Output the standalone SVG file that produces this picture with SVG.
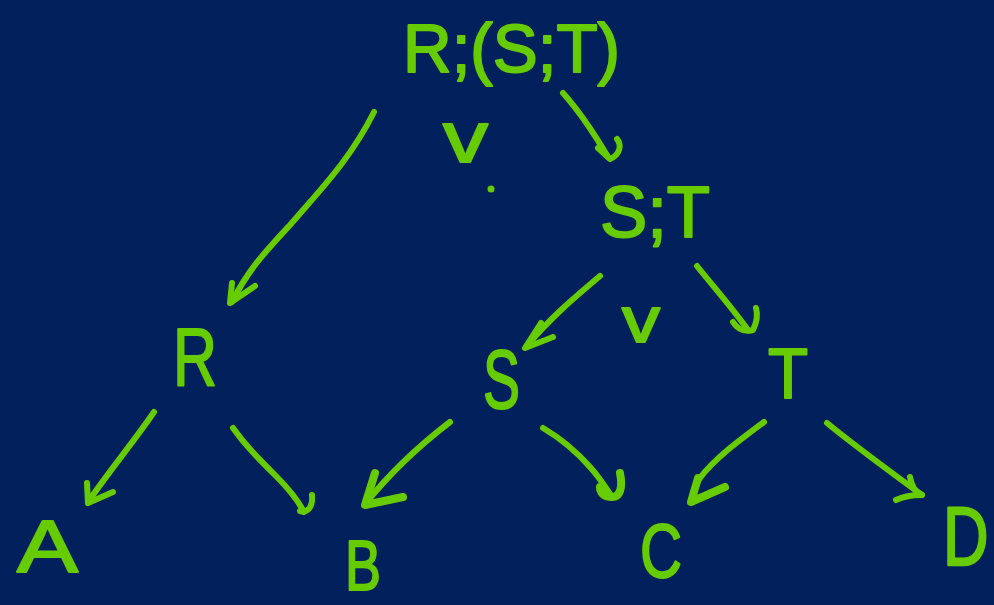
<svg xmlns="http://www.w3.org/2000/svg" width="994" height="605" viewBox="0 0 994 605">
  <style>
    .lbl { font-family: "Liberation Sans", "DejaVu Sans", sans-serif; fill: #66cc00; stroke: #66cc00; stroke-width: 2; stroke-linejoin: round; }
    .ink { fill: none; stroke: #66cc00; stroke-width: 6; stroke-linecap: round; stroke-linejoin: round; }
  </style>
  <rect width="994" height="605" fill="#01205c"/>

  <!-- connectors: hand-drawn strokes with open heads -->
  <g id="connectors" class="ink">
    <!-- R;(S;T) -> R -->
    <path d="M374,112 C350,160 320,190 290,225 C265,252 248,270 232,302"/>
    <path d="M232,283 L230,303 L255,286"/>
    <!-- R;(S;T) -> S;T -->
    <path d="M563,93 C580,112 595,135 608,157"/>
    <path d="M598,148 L610,159 C620,155 622,145 617,139"/>
    <!-- S;T -> S -->
    <path d="M600,276 C575,297 550,318 526,347"/>
    <path d="M541,323 L525,348 L553,337"/>
    <!-- S;T -> T -->
    <path d="M697,266 C712,285 730,305 748,330"/>
    <path d="M733,322 C738,330 745,332 753,330 C757,322 758,315 756,308"/>
    <!-- R -> A -->
    <path d="M154,412 C135,440 110,470 88,502"/>
    <path d="M87,483 L88,503 L113,492"/>
    <!-- R -> B -->
    <path d="M233,428 C245,445 258,458 275,475 C288,488 298,500 304,512"/>
    <path d="M312,495 C313,507 308,513 300,511"/>
    <!-- S -> B -->
    <path d="M450,422 C420,445 390,473 366,503"/>
    <path d="M375,473 L365,505 L403,497" style="stroke-width:8"/>
    <!-- S -> C -->
    <path d="M543,428 C560,438 575,450 590,467 C600,478 606,488 612,497"/>
    <path d="M620,473 C623,488 620,497 612,497 C603,497 600,492 600,487" style="stroke-width:8"/>
    <!-- T -> C -->
    <path d="M764,422 C740,440 715,458 700,478 C695,486 692,494 691,502"/>
    <path d="M698,478 L691,502 L725,487" style="stroke-width:8"/>
    <!-- T -> D -->
    <path d="M827,423 C860,450 895,475 922,495"/>
    <path d="M910,477 C912,488 916,493 922,495 C912,495 902,497 896,500"/>
  </g>

  <g id="root"><text class="lbl" x="403" y="72" font-size="68" textLength="217" lengthAdjust="spacingAndGlyphs">R;(S;T)</text></g>
  <g id="st"><text class="lbl" x="600" y="237" font-size="72" textLength="110" lengthAdjust="spacingAndGlyphs">S;T</text></g>
  <g id="or1"><text class="lbl" x="443" y="162" font-size="72" textLength="45" lengthAdjust="spacingAndGlyphs">v</text><circle cx="491" cy="189" r="3.5" fill="#66cc00"/></g>
  <g id="or2"><text class="lbl" x="622" y="342" font-size="64" textLength="38" lengthAdjust="spacingAndGlyphs">v</text></g>
  <g id="r"><text class="lbl" x="173" y="385" font-size="82" textLength="44" lengthAdjust="spacingAndGlyphs">R</text></g>
  <g id="s"><text class="lbl" x="483" y="408" font-size="84" textLength="37" lengthAdjust="spacingAndGlyphs">S</text></g>
  <g id="t"><text class="lbl" x="768" y="398" font-size="70" textLength="40" lengthAdjust="spacingAndGlyphs">T</text></g>
  <g id="a"><text class="lbl" x="17" y="572" font-size="75" textLength="61" lengthAdjust="spacingAndGlyphs">A</text></g>
  <g id="b"><text class="lbl" x="345" y="590" font-size="70" textLength="36" lengthAdjust="spacingAndGlyphs">B</text></g>
  <g id="c"><text class="lbl" x="640" y="577" font-size="76" textLength="42" lengthAdjust="spacingAndGlyphs">C</text></g>
  <g id="d"><text class="lbl" transform="translate(943,565) scale(0.9,1.2)" font-size="70">D</text></g>
</svg>
